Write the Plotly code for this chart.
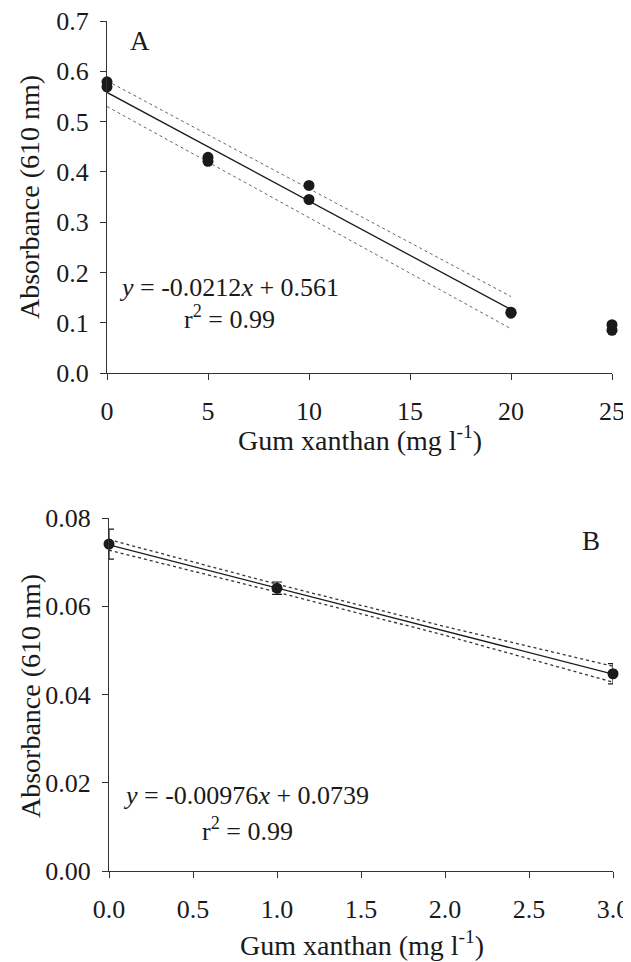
import plotly.graph_objects as go

# ---------------- Data ----------------
# Panel A
a_x = [0, 0, 5, 5, 10, 10, 20, 20, 25, 25]
a_y = [0.579, 0.569, 0.429, 0.421, 0.373, 0.345, 0.121, 0.119, 0.096, 0.085]
a_fit_x = [0, 20]
a_fit_y = [0.558, 0.126]
a_upper_y = [0.581, 0.152]
a_lower_y = [0.530, 0.088]
a_xticks = [0, 5, 10, 15, 20, 25]
a_yticks = [0.0, 0.1, 0.2, 0.3, 0.4, 0.5, 0.6, 0.7]

# Panel B
b_x = [0, 1, 3]
b_y = [0.0741, 0.0641, 0.0447]
b_err = [0.0034, 0.0014, 0.0023]
b_fit_x = [0, 3]
b_fit_y = [0.0739, 0.04462]
b_band_x = [0, 1, 2, 3]
b_upper_y = [0.0751, 0.0650, 0.0554, 0.0464]
b_lower_y = [0.0727, 0.0632, 0.0534, 0.0428]
b_xticks = [0.0, 0.5, 1.0, 1.5, 2.0, 2.5, 3.0]
b_yticks = [0.00, 0.02, 0.04, 0.06, 0.08]

FONT = "Liberation Serif, Times New Roman, serif"
INK = "#1a1a1a"
OFF = 8                      # page body margin
W, H = 631, 962

def px(x):
    return (x - OFF) / W

def py(y):
    return 1 - (y - OFF) / H

fig = go.Figure()

# Panel A traces
for yy in (a_upper_y, a_lower_y):
    fig.add_trace(go.Scatter(x=a_fit_x, y=yy, mode="lines",
                             line=dict(color="#666", width=1, dash="dot"),
                             xaxis="x", yaxis="y", showlegend=False))
fig.add_trace(go.Scatter(x=a_fit_x, y=a_fit_y, mode="lines",
                         line=dict(color=INK, width=1.3),
                         xaxis="x", yaxis="y", showlegend=False))
fig.add_trace(go.Scatter(x=a_x, y=a_y, mode="markers",
                         marker=dict(color=INK, size=11),
                         cliponaxis=False,
                         xaxis="x", yaxis="y", showlegend=False))

# Panel B traces
for yy in (b_upper_y, b_lower_y):
    fig.add_trace(go.Scatter(x=b_band_x, y=yy, mode="lines",
                             line=dict(color="#333", width=1.3, dash="dot"),
                             xaxis="x2", yaxis="y2", showlegend=False))
fig.add_trace(go.Scatter(x=b_fit_x, y=b_fit_y, mode="lines",
                         line=dict(color=INK, width=1.3),
                         xaxis="x2", yaxis="y2", showlegend=False))
fig.add_trace(go.Scatter(x=b_x, y=b_y, mode="markers",
                         marker=dict(color=INK, size=11),
                         error_y=dict(type="data", array=b_err, visible=True,
                                      color=INK, thickness=1.2, width=5),
                         cliponaxis=False,
                         xaxis="x2", yaxis="y2", showlegend=False))

axis_common = dict(
    showgrid=False, zeroline=False, showline=True, linecolor="#333",
    linewidth=1.2, ticks="outside", ticklen=6, tickwidth=1.2, tickcolor="#333",
    tickfont=dict(family=FONT, size=26, color=INK), automargin=False,
    mirror=False, ticklabeloverflow="allow",
)

fig.update_layout(
    width=W, height=H,
    margin=dict(l=0, r=0, t=0, b=0),
    plot_bgcolor="white", paper_bgcolor="white",
    font=dict(family=FONT, color=INK),
    xaxis=dict(domain=[px(107), px(612)], range=[0, 25], anchor="y",
               tickvals=a_xticks, ticktext=[str(v) for v in a_xticks],
               ticklabelstandoff=9, **axis_common),
    yaxis=dict(domain=[py(373), py(21)], range=[0, 0.7], anchor="x",
               tickvals=a_yticks, ticktext=[f"{v:.1f}" for v in a_yticks],
               ticklabelstandoff=6, **axis_common),
    xaxis2=dict(domain=[px(109), px(613)], range=[0, 3], anchor="y2",
                tickvals=b_xticks, ticktext=[f"{v:.1f}" for v in b_xticks],
                ticklabelstandoff=9, **axis_common),
    yaxis2=dict(domain=[py(871), py(518)], range=[0, 0.08], anchor="x2",
                tickvals=b_yticks, ticktext=[f"{v:.2f}" for v in b_yticks],
                ticklabelstandoff=6, **axis_common),
)

def ann(text, x, y, size=26, angle=0, xanchor="center"):
    fig.add_annotation(text=text, x=px(x), y=py(y), xref="paper", yref="paper",
                       showarrow=False, textangle=angle, xanchor=xanchor,
                       yanchor="middle",
                       font=dict(family=FONT, size=size, color=INK))

# Axis titles
ann("Absorbance (610 nm)", 30, 197, size=28, angle=-90)
ann("Gum xanthan (mg l<sup>-1</sup>)", 360, 438, size=28)
ann("Absorbance (610 nm)", 30, 696, size=28, angle=-90)
ann("Gum xanthan (mg l<sup>-1</sup>)", 362, 943, size=28)

# Panel labels
ann("A", 140, 41, size=27)
ann("B", 591, 541, size=27)

# Equations
ann("<i>y</i> = -0.0212<i>x</i> + 0.561", 229, 287, size=26)
ann("r<sup>2</sup> = 0.99", 229, 317, size=26)
ann("<i>y</i> = -0.00976<i>x</i> + 0.0739", 246, 795, size=26)
ann("r<sup>2</sup> = 0.99", 247, 829, size=26)

fig.write_html("out.html")
